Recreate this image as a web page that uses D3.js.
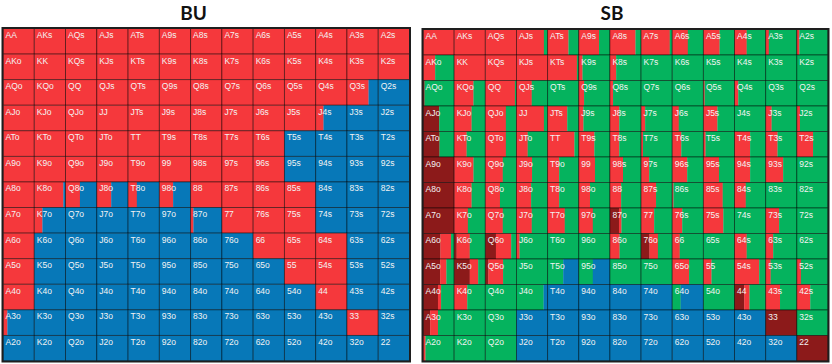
<!DOCTYPE html>
<html><head><meta charset="utf-8">
<script src="https://cdn.jsdelivr.net/npm/d3@7"></script>
<style>html,body{margin:0;padding:0;background:#fff;}svg{display:block;}</style>
</head><body>
<svg id="chart" width="832" height="364"></svg>
<script>
const ranks = ['A','K','Q','J','T','9','8','7','6','5','4','3','2'];
const titles = ['BU','SB'];

// BU: raise frequency (rest = fold)
const buRaise = [
 [1,1,1,1,1,1,1,1,1,1,1,1,1],
 [1,1,1,1,1,1,1,1,1,1,1,1,1],
 [1,1,1,1,1,1,1,1,1,1,1,0.69,0],
 [1,1,1,1,1,1,1,1,1,1,0.25,0,0],
 [1,1,1,1,1,1,1,1,1,0,0,0,0],
 [1,1,1,1,1,1,1,1,1,0,0,0,0],
 [1,0.93,0.46,0.46,0.28,0.44,1,1,1,1,0,0,0],
 [1,0.26,0,0,0,0,0.09,1,1,1,0,0,0],
 [1,0,0,0,0,0,0,0,1,1,1,0,0],
 [1,0,0,0,0,0,0,0,0,1,1,0,0],
 [1,0,0,0,0,0,0,0,0,0,1,0,0],
 [0.14,0,0,0,0,0,0,0,0,0,0,1,0],
 [0,0,0,0,0,0,0,0,0,0,0,0,0]
];

// SB: all-in (dark red), raise (red), fold (blue); call/limp (green) = remainder
const sbJam = [
 [0,0,0,0,0,0,0,0,0,0,0,0,0],
 [0,0,0,0,0,0,0,0,0,0,0,0,0],
 [0.05,0,0,0,0,0,0,0,0,0,0,0,0],
 [0.52,0,0,0,0,0,0,0,0,0,0,0,0],
 [0.53,0,0,0,0,0,0,0,0,0,0,0,0],
 [1,0,0,0,0,0,0,0,0,0,0,0,0],
 [1,0,0,0,0,0,0,0,0,0,0,0,0],
 [1,0,0,0,0,0,0.29,0,0,0,0,0,0],
 [0.56,0.08,0.34,0,0,0,0,0.27,0,0,0,0,0],
 [0.55,0.5,0.1,0,0,0,0,0,0,0,0,0,0],
 [0.48,0,0,0,0,0,0,0,0,0,0.31,0,0],
 [0.23,0,0,0,0,0,0,0,0,0,0,1,0],
 [0,0,0,0,0,0,0,0,0,0,0,0,1]
];
const sbRaise = [
 [1,1,1,0.88,0.67,0.65,0.82,0.92,0.5,0.52,0.39,0.1,0.08],
 [0.39,1,1,1,0.94,0.12,0.2,0,0,0,0,0,0],
 [0,0.62,0.95,0.49,0,0.17,0.1,0,0,0.04,0.12,0,0],
 [0,0.56,0.66,0.88,0.63,0.15,0.3,0.13,0.21,0.45,0,0.19,0.1],
 [0,0.4,0.66,0.36,0.86,0.5,0.3,0.06,0.29,0.07,0.5,0.38,0.52],
 [0,0.62,0.56,0.5,0.37,0.52,0.42,0.26,0.48,0.5,0.5,0.56,0],
 [0,0.56,0.47,0.47,0.37,0.36,0.36,0.48,0.04,0.62,0.36,0,0],
 [0,0.44,0.56,0.49,0.55,0.45,0.08,0.42,0.32,0.64,0,0.43,0],
 [0.34,0.42,0.49,0.1,0,0,0.31,0.27,0.24,0,0.39,0.24,0],
 [0.2,0.27,0.47,0,0,0,0,0,0.54,0.26,0.79,0.16,0.13],
 [0.1,0.42,0,0,0,0,0,0,0,0,0.17,0.46,0.43],
 [0.25,0,0,0,0,0,0,0,0,0,0,0,0],
 [0.08,0,0,0,0,0,0,0,0,0,0,0,0]
];
const sbFold = [
 [0,0,0,0,0,0,0,0,0,0,0,0,0],
 [0,0,0,0,0,0,0,0,0,0,0,0,0],
 [0,0,0,0,0,0,0,0,0,0,0,0,0],
 [0,0,0,0,0,0,0,0,0,0,0,0,0],
 [0,0,0,0,0,0,0,0,0,0,0,0,0],
 [0,0,0,0,0,0,0,0,0,0,0,0,0],
 [0,0,0,0,0,0,0,0,0,0,0,0,0],
 [0,0,0,0,0,0,0,0,0,0,0,0,0],
 [0,0,0,0,0,0,0,0,0,0,0,0,0],
 [0,0,0,0,0.5,0.55,0,0,0,0,0,0,0],
 [0,0,0,0.13,1,1,1,1,0.73,0,0,0,0],
 [0,0,0,1,1,1,1,1,1,1,1,0,0],
 [0,0,0,1,1,1,1,1,1,1,1,1,0]
];

const colors = {jam:'#8c1a1a', raise:'#f5383c', call:'#05b35e', fold:'#0778b8'};

function label(i,j){
  if(i===j) return ranks[i]+ranks[i];
  if(j>i) return ranks[i]+ranks[j]+'s';
  return ranks[j]+ranks[i]+'o';
}

const svg = d3.select('#chart');

const panels = [
  {title:titles[0], x0:3, x1:409.5, y0:28.5, y1:361, tx:193.5,
   segs:(i,j)=>[{c:colors.raise,f:buRaise[i][j]},{c:colors.fold,f:1-buRaise[i][j]}]},
  {title:titles[1], x0:423, x1:828, y0:29.5, y1:361, tx:612,
   segs:(i,j)=>{
     const d=sbJam[i][j], r=sbRaise[i][j], b=sbFold[i][j];
     return [{c:colors.jam,f:d},{c:colors.raise,f:r},{c:colors.call,f:Math.max(0,1-d-r-b)},{c:colors.fold,f:b}];
   }}
];

panels.forEach(p=>{
  const x = d3.scaleBand().domain(ranks).range([p.x0,p.x1]).padding(0);
  const y = d3.scaleBand().domain(ranks).range([p.y0,p.y1]).padding(0);
  const g = svg.append('g');
  g.append('text').attr('x',p.tx).attr('y',20).attr('text-anchor','middle')
    .attr('font-family','Lato, "Open Sans", sans-serif').attr('font-weight','bold')
    .attr('font-size','19px').attr('fill','#111').text(p.title);
  const cells=[];
  ranks.forEach((ri,i)=>ranks.forEach((rj,j)=>cells.push({i,j})));
  const cg = g.selectAll('g.cell').data(cells).join('g').attr('class','cell');
  cg.each(function(d){
    const sel=d3.select(this);
    const cx=x(ranks[d.j]), cy=y(ranks[d.i]), bw=x.bandwidth(), bh=y.bandwidth();
    const fx=d3.scaleLinear().domain([0,1]).range([cx,cx+bw]);
    let acc=0;
    p.segs(d.i,d.j).forEach(s=>{
      if(s.f<=0) return;
      sel.append('rect').attr('x',fx(acc)).attr('y',cy).attr('width',fx(acc+s.f)-fx(acc)+0.2).attr('height',bh).attr('fill',s.c);
      acc+=s.f;
    });
    sel.append('rect').attr('x',cx).attr('y',cy).attr('width',bw).attr('height',bh)
      .attr('fill','none').attr('stroke','rgba(0,0,0,0.5)').attr('stroke-width',0.9);
    sel.append('text').attr('x',cx+2.5).attr('y',cy+9.5)
      .attr('font-family','"Liberation Sans", Arial, sans-serif').attr('font-size','8.5px')
      .attr('fill','#f3f3f3').text(label(d.i,d.j));
  });
  g.append('rect').attr('x',p.x0-0.5).attr('y',p.y0-0.5).attr('width',p.x1-p.x0+1).attr('height',p.y1-p.y0+1)
    .attr('fill','none').attr('stroke','#1e1e1e').attr('stroke-width',2);
});
</script>
</body></html>
